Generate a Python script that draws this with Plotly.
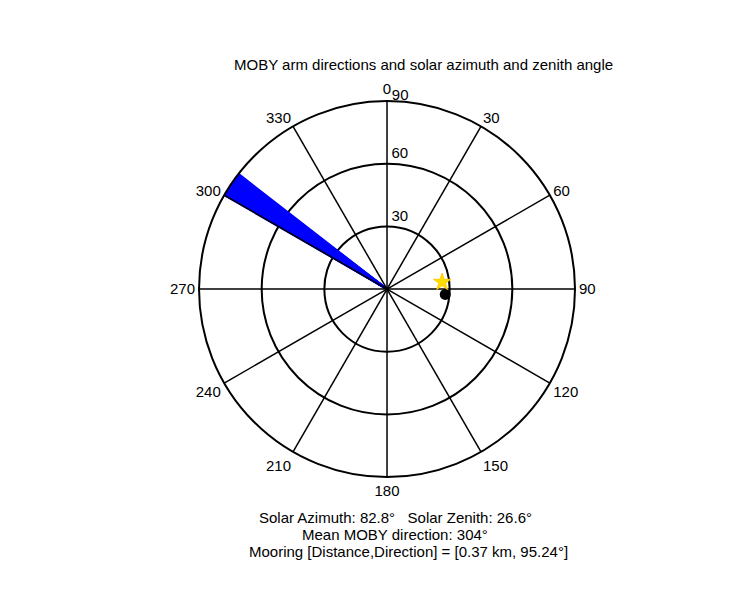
import plotly.graph_objects as go

# MOBY arm directions (deg, clockwise from north)
arm_dirs = [300.0, 300.3, 300.6, 300.9, 301.2, 301.5, 301.8, 302.1, 302.4, 302.7,
            303.0, 303.2, 303.4, 303.6, 303.8, 304.0, 304.2, 304.4, 304.6, 304.8,
            305.0, 305.3, 305.6, 305.9, 306.2, 306.5, 306.8, 307.1, 307.4, 307.8]
arm_len = 90
sun_az, sun_zen = 82.8, 26.6
mooring_dir, mooring_r = 95.24, 28
mean_dir = 304
ring_vals = [30, 60, 90]
angle_ticks = list(range(0, 360, 30))

fig = go.Figure()

r, th = [], []
for a in arm_dirs:
    r += [0, arm_len, None]
    th += [a, a, None]
fig.add_trace(go.Scatterpolar(r=r, theta=th, mode="lines",
                              line=dict(color="#0000ff", width=2), showlegend=False))

# spokes
r, th = [], []
for a in angle_ticks:
    r += [0, 90, None]
    th += [a, a, None]
fig.add_trace(go.Scatterpolar(r=r, theta=th, mode="lines",
                              line=dict(color="black", width=1.5), showlegend=False))

fig.add_trace(go.Scatterpolar(r=[mooring_r], theta=[mooring_dir], mode="markers",
                              marker=dict(color="black", size=11), showlegend=False))
fig.add_trace(go.Scatterpolar(r=[sun_zen], theta=[sun_az], mode="markers",
                              marker=dict(color="#ffdd00", size=13, symbol="star",
                                          line=dict(color="#ffcc00", width=1)),
                              showlegend=False))

# radial labels
fig.add_trace(go.Scatterpolar(r=[31, 61, 89], theta=[4, 2, 1.5], mode="text",
                              text=[str(v) for v in ring_vals], textposition="top right",
                              cliponaxis=False,
                              textfont=dict(size=15, color="black", family="Liberation Sans"),
                              showlegend=False))

fig.update_layout(
    width=750, height=600, paper_bgcolor="white",
    margin=dict(l=0, r=0, t=0, b=0),
    font=dict(family="Liberation Sans", size=15, color="black"),
    polar=dict(
        domain=dict(x=[0.2547, 0.756], y=[0.218, 0.845]),
        bgcolor="white",
        radialaxis=dict(range=[0, 90], tickvals=ring_vals, showticklabels=False,
                        gridcolor="black", gridwidth=2, showline=False, ticks=""),
        angularaxis=dict(direction="clockwise", rotation=90, tickvals=angle_ticks,
                         ticktext=[str(a) for a in angle_ticks], showgrid=False,
                         linecolor="black", linewidth=2, ticks=""),
    ),
    annotations=[
        dict(text="MOBY arm directions and solar azimuth and zenith angle", x=415, y=56,
             showarrow=False),
        dict(text=f"Solar Azimuth: {sun_az}°   Solar Zenith: {sun_zen}°", x=387, y=509,
             showarrow=False),
        dict(text=f"Mean MOBY direction: {mean_dir}°", x=387, y=526, showarrow=False),
        dict(text=f"Mooring [Distance,Direction] = [0.37 km, {mooring_dir}°]", x=400, y=543,
             showarrow=False),
    ],
)
for ann in fig.layout.annotations:
    ann.xref = "paper"
    ann.yref = "paper"
    ann.x = ann.x / 750
    ann.y = 1 - ann.y / 600
    ann.yanchor = "middle"
fig.write_html("out.html")
